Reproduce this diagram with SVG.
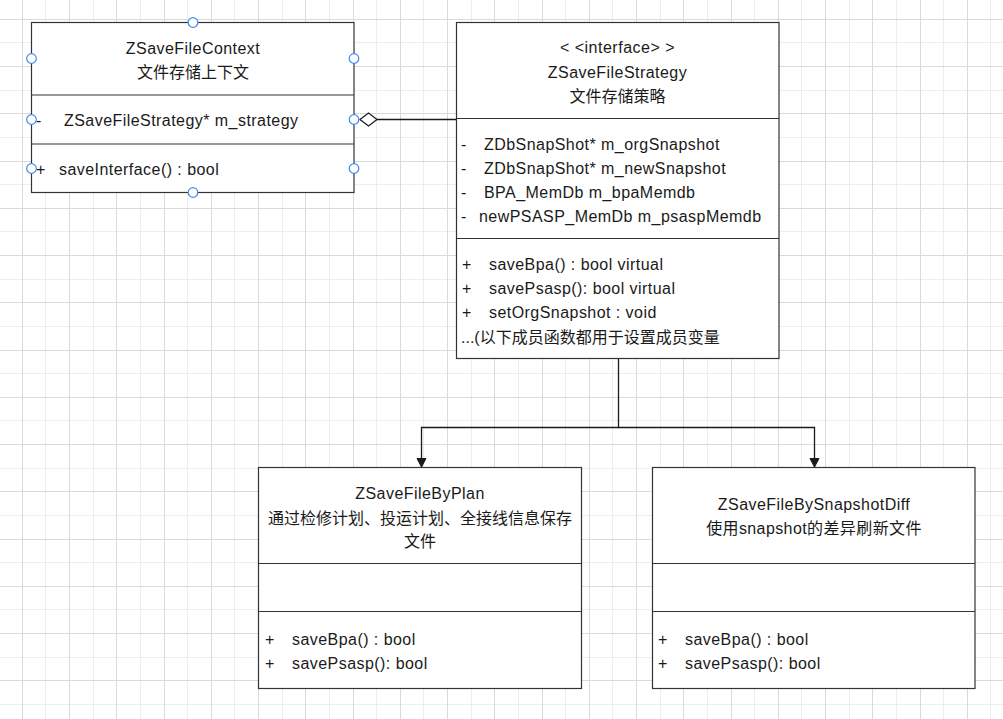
<svg xmlns="http://www.w3.org/2000/svg" width="1003" height="719" viewBox="0 0 1003 719">
<style>
.bg{fill:#ffffff}
.gd{stroke:#dadada;stroke-width:1;fill:none}
.gl{stroke:#ededed;stroke-width:1;fill:none}
.box{fill:#ffffff;stroke:#333333;stroke-width:1.2}
.div{stroke:#333333;stroke-width:1.2;fill:none}
.t{font-family:"Liberation Sans","Noto Sans CJK SC",sans-serif;font-size:16px;fill:#1a1a1a}
.l{letter-spacing:0.45px}
.c{text-anchor:middle}
.h{fill:#ffffff;stroke:#3d8bf0;stroke-width:1.2}
.conn{stroke:#1a1a1a;stroke-width:1.3;fill:none}
</style>
<defs>
<marker id="diamond" markerUnits="userSpaceOnUse" markerWidth="20" markerHeight="16" viewBox="-18 -8 20 16" refX="0" refY="0" orient="auto" overflow="visible">
<path d="M0,0 L-8.5,-6.5 L-17,0 L-8.5,6.5 Z" fill="#ffffff" stroke="#1a1a1a" stroke-width="1.2"/>
</marker>
<marker id="arrow" markerUnits="userSpaceOnUse" markerWidth="12" markerHeight="12" viewBox="-10 -6 12 12" refX="0" refY="0" orient="auto" overflow="visible">
<path d="M0,0 L-8.5,-4.5 L-8.5,4.5 Z" fill="#1a1a1a" stroke="#1a1a1a" stroke-width="1"/>
</marker>
</defs>
<rect class="bg" x="0" y="0" width="1003" height="719"/>
<g id="grid">
<path class="gl" d="M45.5,0V719M93.5,0V719M140.5,0V719M187.5,0V719M234.5,0V719M282.5,0V719M329.5,0V719M376.5,0V719M423.5,0V719M471.5,0V719M518.5,0V719M565.5,0V719M612.5,0V719M660.5,0V719M707.5,0V719M754.5,0V719M801.5,0V719M849.5,0V719M896.5,0V719M943.5,0V719M990.5,0V719M0,42.5H1003M0,90.5H1003M0,137.5H1003M0,184.5H1003M0,231.5H1003M0,279.5H1003M0,326.5H1003M0,373.5H1003M0,420.5H1003M0,468.5H1003M0,515.5H1003M0,562.5H1003M0,609.5H1003M0,657.5H1003M0,704.5H1003"/>
<path class="gd" d="M22.5,0V719M69.5,0V719M116.5,0V719M164.5,0V719M211.5,0V719M258.5,0V719M305.5,0V719M353.5,0V719M400.5,0V719M447.5,0V719M494.5,0V719M542.5,0V719M589.5,0V719M636.5,0V719M683.5,0V719M731.5,0V719M778.5,0V719M825.5,0V719M872.5,0V719M920.5,0V719M967.5,0V719M0,19.5H1003M0,66.5H1003M0,113.5H1003M0,161.5H1003M0,208.5H1003M0,255.5H1003M0,302.5H1003M0,350.5H1003M0,397.5H1003M0,444.5H1003M0,491.5H1003M0,539.5H1003M0,586.5H1003M0,633.5H1003M0,680.5H1003"/>
</g>
<g id="connectors">
<path class="conn" d="M517,119.5H360" marker-end="url(#diamond)"/>
<path class="conn" d="M618.5,358.5V427.5H421.5V467" marker-end="url(#arrow)"/>
<path class="conn" d="M618.5,427.5H814.5V467" marker-end="url(#arrow)"/>
</g>
<g id="node-context">
<rect class="box" x="31.5" y="22.5" width="322.5" height="170"/>
<path class="div" d="M31.5,95H354M31.5,144H354"/>
<text class="t l c" x="193" y="54">ZSaveFileContext</text>
<text class="t c" x="193" y="78">文件存储上下文</text>
<text class="t" x="36" y="126">-</text>
<text class="t l" x="64" y="126">ZSaveFileStrategy* m_strategy</text>
<text class="t" x="36" y="175">+</text>
<text class="t l" x="59" y="175">saveInterface() : bool</text>
<circle class="h" cx="193" cy="22.5" r="4.8"/>
<circle class="h" cx="193" cy="192.5" r="4.8"/>
<circle class="h" cx="31.5" cy="58.5" r="4.8"/>
<circle class="h" cx="354" cy="58.5" r="4.8"/>
<circle class="h" cx="31.5" cy="119.5" r="4.8"/>
<circle class="h" cx="354" cy="119.5" r="4.8"/>
<circle class="h" cx="31.5" cy="168.5" r="4.8"/>
<circle class="h" cx="354" cy="168.5" r="4.8"/>
</g>
<g id="node-strategy">
<rect class="box" x="456.5" y="22.5" width="322.5" height="336"/>
<path class="div" d="M456.5,118.5H779M456.5,238.5H779"/>
<text class="t c" x="617.5" y="53" letter-spacing="0.5">&lt; &lt;interface&gt; &gt;</text>
<text class="t l c" x="617.5" y="78">ZSaveFileStrategy</text>
<text class="t c" x="617.5" y="102">文件存储策略</text>
<text class="t" x="461" y="150">-</text>
<text class="t l" x="484" y="150">ZDbSnapShot* m_orgSnapshot</text>
<text class="t" x="461" y="174">-</text>
<text class="t l" x="484" y="174">ZDbSnapShot* m_newSnapshot</text>
<text class="t" x="461" y="198">-</text>
<text class="t l" x="484" y="198">BPA_MemDb m_bpaMemdb</text>
<text class="t" x="461" y="222">-</text>
<text class="t l" x="479" y="222">newPSASP_MemDb m_psaspMemdb</text>
<text class="t" x="462" y="270">+</text>
<text class="t l" x="489" y="270">saveBpa() : bool virtual</text>
<text class="t" x="462" y="294">+</text>
<text class="t l" x="489" y="294">savePsasp(): bool virtual</text>
<text class="t" x="462" y="318">+</text>
<text class="t l" x="489" y="318">setOrgSnapshot : void</text>
<text class="t" x="461" y="343">...(以下成员函数都用于设置成员变量</text>
</g>
<g id="node-byplan">
<rect class="box" x="258.5" y="467.5" width="323" height="221"/>
<path class="div" d="M258.5,563.5H581.5M258.5,611.5H581.5"/>
<text class="t l c" x="420" y="499">ZSaveFileByPlan</text>
<text class="t c" x="420" y="524">通过检修计划、投运计划、全接线信息保存</text>
<text class="t c" x="420" y="547">文件</text>
<text class="t" x="265" y="645">+</text>
<text class="t l" x="292" y="645">saveBpa() : bool</text>
<text class="t" x="265" y="669">+</text>
<text class="t l" x="292" y="669">savePsasp(): bool</text>
</g>
<g id="node-bysnapshotdiff">
<rect class="box" x="652.5" y="467.5" width="322.5" height="221"/>
<path class="div" d="M652.5,563.5H975M652.5,611.5H975"/>
<text class="t l c" x="814" y="510">ZSaveFileBySnapshotDiff</text>
<text class="t c" x="814" y="534" letter-spacing="0.4">使用snapshot的差异刷新文件</text>
<text class="t" x="658" y="645">+</text>
<text class="t l" x="685" y="645">saveBpa() : bool</text>
<text class="t" x="658" y="669">+</text>
<text class="t l" x="685" y="669">savePsasp(): bool</text>
</g>
</svg>
